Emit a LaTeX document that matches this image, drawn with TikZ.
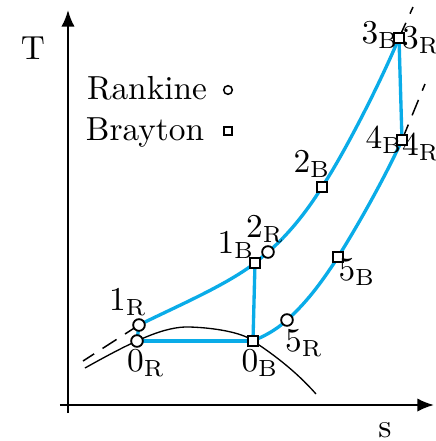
\documentclass[tikz,border=0pt]{standalone}
\usetikzlibrary{arrows.meta}
\definecolor{cycblue}{RGB}{10,172,232}
\begin{document}
\begin{tikzpicture}[x=0.3pt,y=-0.3pt,
  cyc/.style={draw=cycblue, line width=1.0pt},
  axis/.style={line width=0.6pt, -{Latex[length=5pt,width=4pt]}},
  rk/.style={circle, draw, fill=white, line width=0.55pt, inner sep=0pt, minimum size=3.5pt},
  br/.style={rectangle, draw, fill=white, line width=0.55pt, inner sep=0pt, minimum size=3.1pt},
  lrk/.style={circle, draw, line width=0.45pt, inner sep=0pt, minimum size=2.6pt},
  lbr/.style={rectangle, draw, line width=0.45pt, inner sep=0pt, minimum size=2.3pt},
  dsh/.style={line width=0.45pt, dash pattern=on 5pt off 3pt},
  lab/.style={inner sep=0pt}]
\useasboundingbox (0,0) rectangle (436,441);
% axes
\coordinate (yb) at (68,413);
\coordinate (yt) at (68,10);
\coordinate (xl) at (60,405);
\coordinate (xr) at (434,405);
\draw[axis] (yb) -- (yt);
\draw[axis] (xl) -- (xr);
\node[lab] (T) at (33,48) {T};
\node[lab] (s) at (385,430) {s};
% legend
\node[lab] (rank) at (147,88) {Rankine};
\node[lrk] (lr) at (228,90) {};
\node[lab] (bray) at (145,133) {Brayton};
\node[lbr] (lb) at (228,131) {};
% points
\coordinate (p0R) at (137,341);
\coordinate (p1R) at (139,325);
\coordinate (p0B) at (253,341);
\coordinate (p1B) at (255,263);
\coordinate (p2R) at (268,252);
\coordinate (p2B) at (322,187);
\coordinate (p3) at (399,38);
\coordinate (p4) at (402,140);
\coordinate (p5B) at (338,257);
\coordinate (p5R) at (287,320);
% dome
\draw[line width=0.4pt] (85,368) .. controls (135,340) and (165,326) .. (190,327)
  .. controls (220,328) and (245,334) .. (p0B) .. controls (270,352) and (295,370) .. (316,394);
% dashed extensions
\coordinate (d1) at (83,361);
\coordinate (d3) at (413,7);
\coordinate (d4) at (425,84);
\draw[dsh] (p1R) -- (d1);
\draw[dsh] (p3) -- (d3);
\draw[dsh] (p4) -- (d4);
% cycles
\draw[cyc] (p0R) -- (p0B);
\draw[cyc] (p0R) -- (p1R);
\draw[cyc] (p1R) .. controls (175,307) and (225,286) .. (p1B);
\draw[cyc] (p0B) -- (p1B);
\draw[cyc] (p1B) -- (p2R) .. controls (286,237) and (306,213) .. (p2B)
  .. controls (342,157) and (378,88) .. (p3);
\draw[cyc] (p3) -- (p4);
\draw[cyc] (p4) .. controls (386,175) and (360,222) .. (p5B)
  .. controls (320,285) and (305,304) .. (p5R)
  .. controls (275,331) and (264,336) .. (p0B);
% markers
\node[rk] (m0R) at (p0R) {};
\node[rk] (m1R) at (p1R) {};
\node[br] (m0B) at (p0B) {};
\node[br] (m1B) at (p1B) {};
\node[rk] (m2R) at (p2R) {};
\node[br] (m2B) at (p2B) {};
\node[br] (m3) at (p3) {};
\node[br] (m4) at (p4) {};
\node[br] (m5B) at (p5B) {};
\node[rk] (m5R) at (p5R) {};
% labels
\node[lab] (t1R) at (128,302) {$1_{\mathrm{R}}$};
\node[lab] (t0R) at (146,363) {$0_{\mathrm{R}}$};
\node[lab] (t0B) at (260,363) {$0_{\mathrm{B}}$};
\node[lab] (t5R) at (304,343) {$5_{\mathrm{R}}$};
\node[lab] (t1B) at (236,245) {$1_{\mathrm{B}}$};
\node[lab] (t2R) at (265,229) {$2_{\mathrm{R}}$};
\node[lab] (t2B) at (312,164) {$2_{\mathrm{B}}$};
\node[lab] (t5B) at (357,272) {$5_{\mathrm{B}}$};
\node[lab] (t3B) at (380,35) {$3_{\mathrm{B}}$};
\node[lab] (t3R) at (421,40) {$3_{\mathrm{R}}$};
\node[lab] (t4B) at (384,140) {$4_{\mathrm{B}}$};
\node[lab] (t4R) at (421,147) {$4_{\mathrm{R}}$};
\end{tikzpicture}
\end{document}
